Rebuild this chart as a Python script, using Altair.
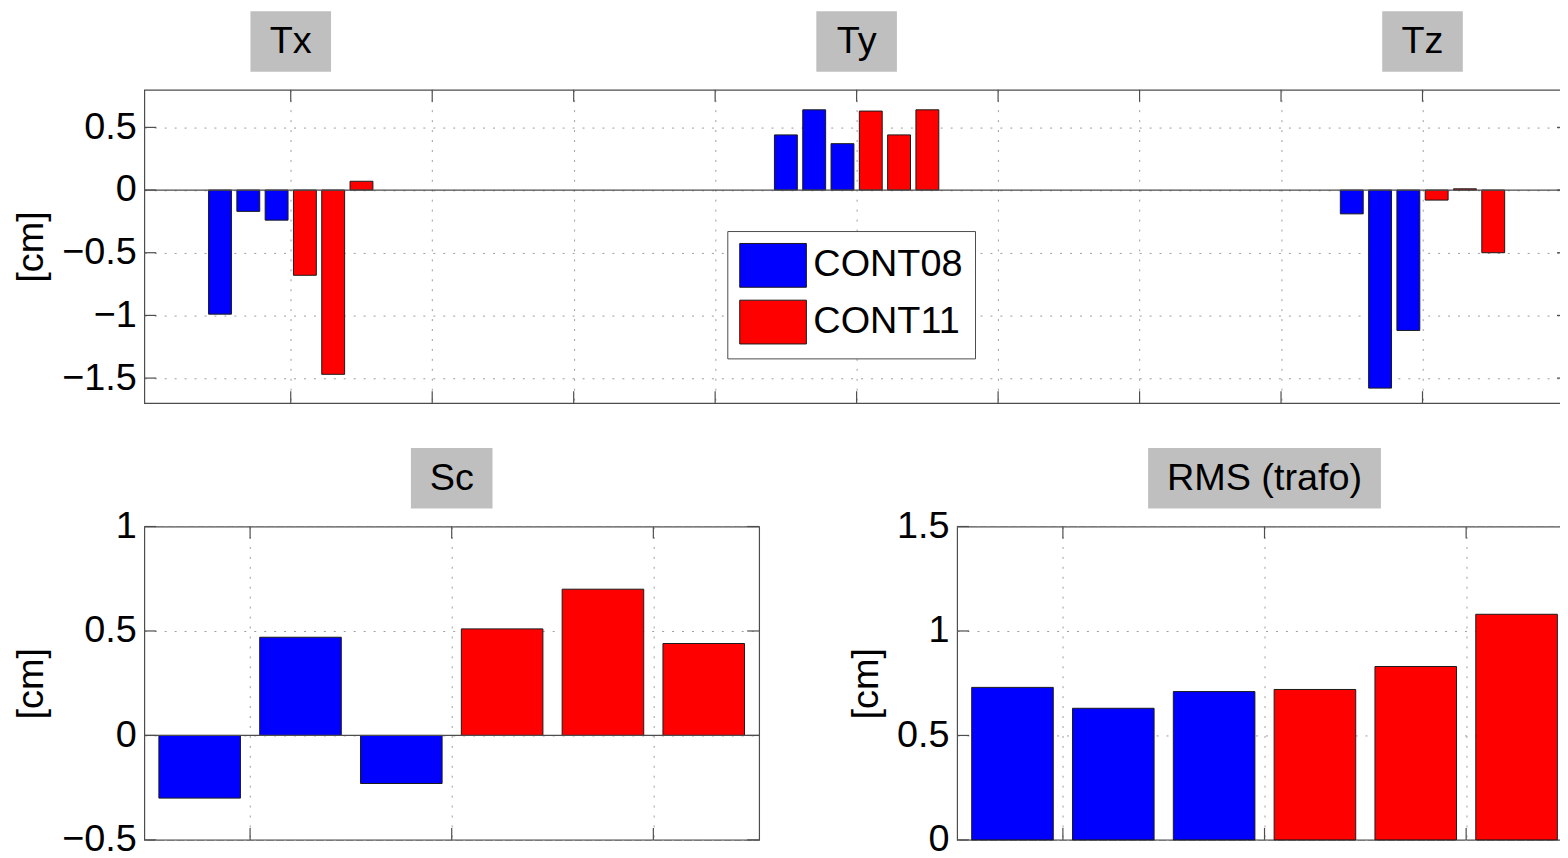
import altair as alt
import pandas as pd

FONT = "Liberation Sans"
FS = 38
BLUE = "#0000ff"
RED = "#ff0000"
FRAME = "#4d4d4d"
GRID = "#9c9c9c"
BOXGRAY = "#bfbfbf"

# ---------------- data ----------------
components = ["Tx", "Ty", "Tz"]
component_pos = [1, 5, 9]
campaigns = ["CONT08", "CONT08", "CONT08", "CONT11", "CONT11", "CONT11"]
tx_vals = [-0.99, -0.17, -0.24, -0.68, -1.47, 0.07]
ty_vals = [0.44, 0.64, 0.37, 0.63, 0.44, 0.64]
tz_vals = [-0.19, -1.58, -1.12, -0.08, 0.01, -0.50]
sc_vals = [-0.30, 0.47, -0.23, 0.51, 0.70, 0.44]
rms_vals = [0.73, 0.63, 0.71, 0.72, 0.83, 1.08]
bar_index = [1, 2, 3, 4, 5, 6]

top_x_ticks = [1, 2, 3, 4, 5, 6, 7, 8, 9]
top_y_ticks = [-1.5, -1, -0.5, 0, 0.5]
bottom_x_ticks = [1.5, 3.5, 5.5]
sc_y_ticks = [-0.5, 0, 0.5, 1]
rms_y_ticks = [0, 0.5, 1, 1.5]

rows = []
for comp, pos, vals in zip(components, component_pos, [tx_vals, ty_vals, tz_vals]):
    for i, (camp, v) in enumerate(zip(campaigns, vals)):
        rows.append({"component": comp, "campaign": camp, "xpos": pos + (i - 2.5) * 0.2, "value": v})
top_df = pd.DataFrame(rows)
top_titles = pd.DataFrame({"name": components, "pos": component_pos})

sc_df = pd.DataFrame({"idx": bar_index, "campaign": campaigns, "value": sc_vals})
rms_df = pd.DataFrame({"idx": bar_index, "campaign": campaigns, "value": rms_vals})
mid = sum(bar_index) / len(bar_index)
sc_title = pd.DataFrame({"name": ["Sc"], "pos": [mid]})
rms_title = pd.DataFrame({"name": ["RMS (trafo)"], "pos": [mid]})
zero_df = pd.DataFrame({"zero": [0]})

color_scale = alt.Scale(domain=["CONT08", "CONT11"], range=[BLUE, RED])


def grid_axis(values):
    return alt.Axis(orient="bottom", values=values, grid=True, gridDash=[2, 8], gridColor=GRID,
                    gridWidth=1, ticks=False, labels=False, domain=False, title=None)


def label_axis(values):
    return alt.Axis(orient="left", values=values, grid=True, gridDash=[2, 8], gridColor=GRID,
                    gridWidth=1, ticks=False, domain=False, labelFont=FONT, labelFontSize=FS,
                    labelColor="black", labelPadding=8, labelFlush=False, labelOverlap=False,
                    format="~g", title="[cm]", titleFont=FONT, titleFontSize=FS,
                    titleFontWeight="normal", titleColor="black", titlePadding=11)


def panel(df, xfield, xdomain, xticks, ydomain, yticks, bar_size, titles, box_w, W, H,
          legend=None, zero_line=True):
    xs = alt.Scale(domain=xdomain, nice=False, zero=False)
    ys = alt.Scale(domain=ydomain, nice=False, zero=False)
    xax = grid_axis(xticks)
    yax = label_axis(yticks)
    bars = alt.Chart(df).mark_bar(size=bar_size, stroke="#1a1a1a", strokeWidth=1).encode(
        x=alt.X(f"{xfield}:Q", scale=xs, axis=xax),
        y=alt.Y("value:Q", scale=ys, axis=yax),
        y2=alt.datum(0),
        color=alt.Color("campaign:N", scale=color_scale, legend=legend),
    )
    layers = [bars]
    if zero_line:
        layers.append(alt.Chart(zero_df).mark_rule(color=FRAME, strokeWidth=1.2).encode(
            y=alt.Y("zero:Q", axis=yax)))
    # inward tick marks (MATLAB style) on all four sides
    xt = pd.DataFrame({"t": xticks})
    yt = pd.DataFrame({"t": yticks})
    tick = dict(color=FRAME, strokeWidth=1.2)
    layers.append(alt.Chart(xt).mark_rule(**tick).encode(
        x=alt.X("t:Q", axis=xax), y=alt.value(0), y2=alt.value(12)))
    layers.append(alt.Chart(xt).mark_rule(**tick).encode(
        x=alt.X("t:Q", axis=xax), y=alt.value(H - 12), y2=alt.value(H)))
    layers.append(alt.Chart(yt).mark_rule(**tick).encode(
        y=alt.Y("t:Q", axis=yax), x=alt.value(0), x2=alt.value(12)))
    layers.append(alt.Chart(yt).mark_rule(**tick).encode(
        y=alt.Y("t:Q", axis=yax), x=alt.value(W - 12), x2=alt.value(W)))
    hy = 30.5 / (box_w / 2)
    shape = f"M-1,-{hy:.4f}L1,-{hy:.4f}L1,{hy:.4f}L-1,{hy:.4f}Z"
    layers.append(alt.Chart(titles).mark_point(shape=shape, size=box_w * box_w, filled=True,
                                               color=BOXGRAY, opacity=1, strokeWidth=0).encode(
        x=alt.X("pos:Q", axis=xax),
        y=alt.value(-48.5)))
    layers.append(alt.Chart(titles).mark_text(font=FONT, fontSize=FS, color="black",
                                              baseline="alphabetic", align="center").encode(
        x=alt.X("pos:Q", axis=xax),
        y=alt.value(-36.6),
        text="name:N"))
    return alt.layer(*layers).properties(width=W, height=H)


legend = alt.Legend(orient="none", legendX=586, legendY=142, title=None,
                    symbolType="M-1.523,-1L1.523,-1L1.523,1L-1.523,1Z", symbolSize=1936,
                    symbolOffset=11.5, symbolStrokeColor="#1a1a1a", symbolStrokeWidth=1,
                    symbolOpacity=1, labelFont=FONT, labelFontSize=FS, labelColor="black",
                    labelOffset=18, labelLimit=400, strokeColor=FRAME, fillColor="white",
                    padding=12, rowPadding=8)

top = panel(top_df, "xpos", [0, 10], top_x_ticks, [-1.7, 0.8], top_y_ticks, 23, top_titles, 81,
            1432, 315, legend=legend)
sc_chart = panel(sc_df, "idx", [0.5, 6.5], bottom_x_ticks, [-0.5, 1], sc_y_ticks, 82,
                 sc_title, 82, 618, 315)
rms_chart = panel(rms_df, "idx", [0.5, 6.5], bottom_x_ticks, [0, 1.5], rms_y_ticks, 82,
                  rms_title, 234, 618, 315, zero_line=False)

bottom = alt.hconcat(sc_chart, rms_chart, spacing=86)

# fixed-size canvas (1560 x 850): the figure is cropped at its right edge like the reference
chart = alt.vconcat(top, bottom, spacing=42).resolve_scale(color="independent").properties(
    autosize=alt.AutoSizeParams(type="none"),
    padding={"left": 137, "top": 80, "right": 1423, "bottom": 770},
    background="white",
).configure_view(stroke=FRAME, strokeWidth=1.2)

chart.save("out.html", embed_options={"renderer": "svg", "actions": False})
